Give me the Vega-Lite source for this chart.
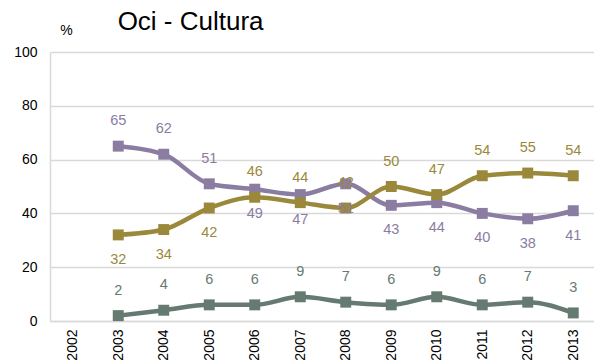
{
  "$schema": "https://vega.github.io/schema/vega-lite/v6.json",
  "autosize": "none",
  "width": 546,
  "height": 269,
  "padding": {"left": 50, "top": 52, "right": 0, "bottom": 42},
  "background": "white",
  "title": {"text": "Oci - Cultura", "anchor": "start", "dx": 104, "dy": 34, "fontSize": 26, "fontWeight": "normal", "font": "Liberation Sans", "color": "#000000", "offset": 22},
  "config": {
    "view": {"stroke": null},
    "font": "Liberation Sans",
    "axis": {"labelFont": "Liberation Sans", "labelFontSize": 14, "labelColor": "#000000", "gridColor": "#d9d9d9", "gridWidth": 1.5, "domainColor": "#d9d9d9", "domainWidth": 1.5, "ticks": false}
  },
  "data": {"values": [
    {"year": "2003", "series": "s1", "value": 65},
    {"year": "2004", "series": "s1", "value": 62},
    {"year": "2005", "series": "s1", "value": 51},
    {"year": "2006", "series": "s1", "value": 49},
    {"year": "2007", "series": "s1", "value": 47},
    {"year": "2008", "series": "s1", "value": 51},
    {"year": "2009", "series": "s1", "value": 43},
    {"year": "2010", "series": "s1", "value": 44},
    {"year": "2011", "series": "s1", "value": 40},
    {"year": "2012", "series": "s1", "value": 38},
    {"year": "2013", "series": "s1", "value": 41},
    {"year": "2003", "series": "s2", "value": 32},
    {"year": "2004", "series": "s2", "value": 34},
    {"year": "2005", "series": "s2", "value": 42},
    {"year": "2006", "series": "s2", "value": 46},
    {"year": "2007", "series": "s2", "value": 44},
    {"year": "2008", "series": "s2", "value": 42},
    {"year": "2009", "series": "s2", "value": 50},
    {"year": "2010", "series": "s2", "value": 47},
    {"year": "2011", "series": "s2", "value": 54},
    {"year": "2012", "series": "s2", "value": 55},
    {"year": "2013", "series": "s2", "value": 54},
    {"year": "2003", "series": "s3", "value": 2},
    {"year": "2004", "series": "s3", "value": 4},
    {"year": "2005", "series": "s3", "value": 6},
    {"year": "2006", "series": "s3", "value": 6},
    {"year": "2007", "series": "s3", "value": 9},
    {"year": "2008", "series": "s3", "value": 7},
    {"year": "2009", "series": "s3", "value": 6},
    {"year": "2010", "series": "s3", "value": 9},
    {"year": "2011", "series": "s3", "value": 6},
    {"year": "2012", "series": "s3", "value": 7},
    {"year": "2013", "series": "s3", "value": 3}
  ]},
  "encoding": {
    "x": {"field": "year", "type": "ordinal", "sort": null,
      "scale": {"type": "point", "domain": ["2002","2003","2004","2005","2006","2007","2008","2009","2010","2011","2012","2013"], "padding": 0.5},
      "axis": {"title": null, "labelAngle": -90, "labelAlign": "right", "labelBaseline": "middle", "labelPadding": 8, "grid": false}},
    "y": {"field": "value", "type": "quantitative",
      "scale": {"domain": [0, 100], "nice": false},
      "axis": {"values": [0, 20, 40, 60, 80, 100], "title": "%", "titleAngle": 0, "titleX": 16, "titleY": -18, "titleAlign": "center", "titleBaseline": "alphabetic", "titleFontSize": 14, "titleFontWeight": "normal", "titleFont": "Liberation Sans", "labelPadding": 13}},
    "color": {"field": "series", "type": "nominal", "legend": null,
      "scale": {"domain": ["s1", "s2", "s3"], "range": ["#8b7da2", "#9a893b", "#657a71"]}}
  },
  "layer": [
    {"mark": {"type": "line", "strokeWidth": 4.5, "interpolate": "monotone"}},
    {"mark": {"type": "point", "shape": "square", "filled": true, "size": 120, "opacity": 1}},
    {
      "transform": [{"filter": "(datum.series == 's1' && datum.year <= '2005') || (datum.series == 's2' && datum.year >= '2006') || datum.series == 's3'"}],
      "mark": {"type": "text", "dy": -25, "fontSize": 14.5, "font": "Liberation Sans"},
      "encoding": {"text": {"field": "value", "type": "quantitative"}}
    },
    {
      "transform": [{"filter": "(datum.series == 's1' && datum.year >= '2006') || (datum.series == 's2' && datum.year <= '2005')"}],
      "mark": {"type": "text", "dy": 25, "fontSize": 14.5, "font": "Liberation Sans"},
      "encoding": {"text": {"field": "value", "type": "quantitative"}}
    }
  ]
}
